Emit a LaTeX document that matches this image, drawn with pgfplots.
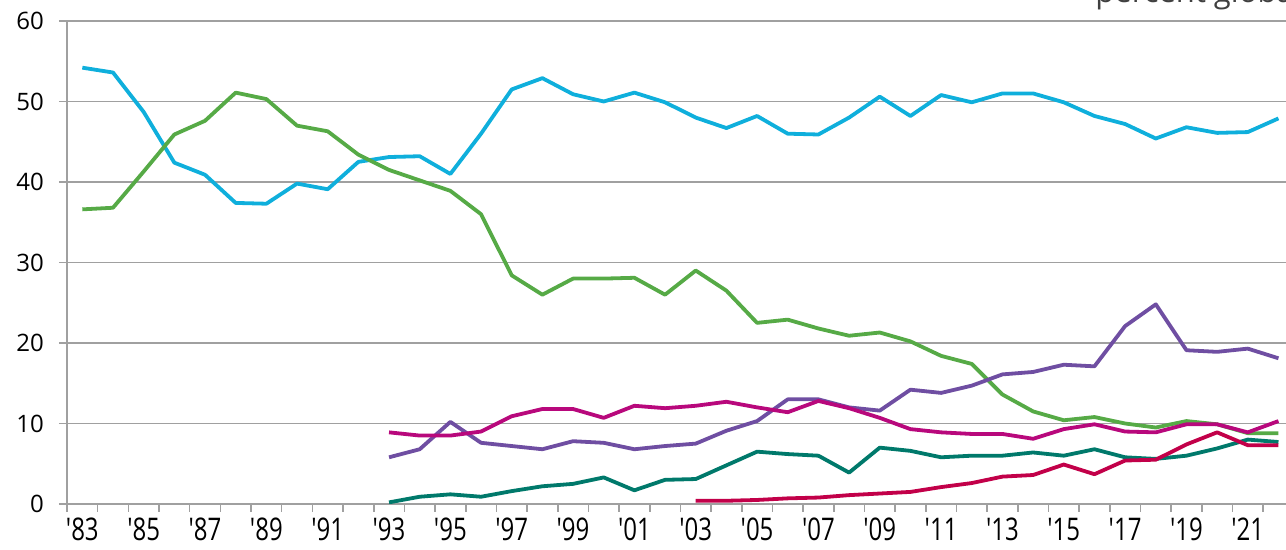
\documentclass[border=0pt]{standalone}
\usepackage{fontspec}
\setmainfont{Open Sans}
\usepackage{graphicx}
\usepackage{pgfplots}
\pgfplotsset{compat=1.18}
\definecolor{cCyan}{HTML}{0FAFDC}
\definecolor{cGreen}{HTML}{56AA46}
\definecolor{cPurple}{HTML}{6F4EA2}
\definecolor{cMagenta}{HTML}{B8087C}
\definecolor{cTeal}{HTML}{00796B}
\definecolor{cCrimson}{HTML}{C20049}
\definecolor{gridgray}{HTML}{A0A0A0}
% x labels in the reference are taller than the y labels
\newcommand\xl[1]{\scalebox{1}[1.3]{\textquotesingle#1}}

\begin{document}
\begin{tikzpicture}
\begin{axis}[
    scale only axis, width=613.4pt, height=241.5pt,
    xmin=1982.5, xmax=2022.5, ymin=0, ymax=60,
    axis x line*=bottom, axis y line*=left,
    axis line style={gridgray, line width=0.8pt},
    ytick={0,10,...,60},
    ymajorgrids, grid style={gridgray, line width=0.8pt},
    xtick={1983,1985,...,2021},
    xticklabels={\xl{83},\xl{85},\xl{87},\xl{89},\xl{91},\xl{93},\xl{95},\xl{97},\xl{99},\xl{01},
                 \xl{03},\xl{05},\xl{07},\xl{09},\xl{11},\xl{13},\xl{15},\xl{17},\xl{19},\xl{21}},
    minor xtick={1982.5,1983.5,...,2022.5},
    major x tick style={draw=none},
    tick align=outside, major tick length=4pt, minor tick length=4pt,
    tick style={gridgray, line width=0.8pt},
    /pgf/number format/assume math mode=true,
    tick label style={font=\fontsize{12}{14}\selectfont, text=black},
    yticklabel style={xshift=-4pt},
    xticklabel style={anchor=base, yshift=-14.5pt},
    every axis plot/.append style={line width=1.9pt, line join=round},
]
\addplot[cCyan] coordinates {
(1983,54.2)(1984,53.6)(1985,48.7)(1986,42.4)(1987,40.9)(1988,37.4)(1989,37.3)(1990,39.8)
(1991,39.1)(1992,42.5)(1993,43.1)(1994,43.2)(1995,41.0)(1996,46.0)(1997,51.5)(1998,52.9)
(1999,50.9)(2000,50.0)(2001,51.1)(2002,49.9)(2003,48.0)(2004,46.7)(2005,48.2)(2006,46.0)
(2007,45.9)(2008,48.0)(2009,50.6)(2010,48.2)(2011,50.8)(2012,49.9)(2013,51.0)(2014,51.0)
(2015,49.9)(2016,48.2)(2017,47.2)(2018,45.4)(2019,46.8)(2020,46.1)(2021,46.2)(2022,47.9)
};
\addplot[cGreen] coordinates {
(1983,36.6)(1984,36.8)(1985,41.3)(1986,45.9)(1987,47.6)(1988,51.1)(1989,50.3)(1990,47.0)
(1991,46.3)(1992,43.4)(1993,41.5)(1994,40.2)(1995,38.9)(1996,36.0)(1997,28.4)(1998,26.0)
(1999,28.0)(2000,28.0)(2001,28.1)(2002,26.0)(2003,29.0)(2004,26.5)(2005,22.5)(2006,22.9)
(2007,21.8)(2008,20.9)(2009,21.3)(2010,20.2)(2011,18.4)(2012,17.4)(2013,13.6)(2014,11.5)
(2015,10.4)(2016,10.8)(2017,10.0)(2018,9.5)(2019,10.3)(2020,9.9)(2021,8.8)(2022,8.8)
};
\addplot[cPurple] coordinates {
(1993,5.8)(1994,6.8)(1995,10.2)(1996,7.6)(1997,7.2)(1998,6.8)(1999,7.8)(2000,7.6)
(2001,6.8)(2002,7.2)(2003,7.5)(2004,9.1)(2005,10.3)(2006,13.0)(2007,13.0)(2008,12.0)
(2009,11.6)(2010,14.2)(2011,13.8)(2012,14.7)(2013,16.1)(2014,16.4)(2015,17.3)(2016,17.1)
(2017,22.1)(2018,24.8)(2019,19.1)(2020,18.9)(2021,19.3)(2022,18.1)
};
\addplot[cMagenta] coordinates {
(1993,8.9)(1994,8.5)(1995,8.5)(1996,9.0)(1997,10.9)(1998,11.8)(1999,11.8)(2000,10.7)
(2001,12.2)(2002,11.9)(2003,12.2)(2004,12.7)(2005,12.0)(2006,11.4)(2007,12.8)(2008,11.9)
(2009,10.7)(2010,9.3)(2011,8.9)(2012,8.7)(2013,8.7)(2014,8.1)(2015,9.3)(2016,9.9)
(2017,9.0)(2018,8.9)(2019,9.9)(2020,9.9)(2021,8.9)(2022,10.3)
};
\addplot[cTeal] coordinates {
(1993,0.2)(1994,0.9)(1995,1.2)(1996,0.9)(1997,1.6)(1998,2.2)(1999,2.5)(2000,3.3)
(2001,1.7)(2002,3.0)(2003,3.1)(2004,4.8)(2005,6.5)(2006,6.2)(2007,6.0)(2008,3.9)
(2009,7.0)(2010,6.6)(2011,5.8)(2012,6.0)(2013,6.0)(2014,6.4)(2015,6.0)(2016,6.8)
(2017,5.8)(2018,5.6)(2019,6.0)(2020,6.9)(2021,8.0)(2022,7.7)
};
\addplot[cCrimson] coordinates {
(2003,0.4)(2004,0.4)(2005,0.5)(2006,0.7)(2007,0.8)(2008,1.1)(2009,1.3)(2010,1.5)
(2011,2.1)(2012,2.6)(2013,3.4)(2014,3.6)(2015,4.9)(2016,3.7)(2017,5.4)(2018,5.5)
(2019,7.4)(2020,8.9)(2021,7.3)(2022,7.3)
};
\end{axis}
\node[anchor=base west, font=\fontsize{15.5}{18}\selectfont, text=black!75, inner sep=0pt] at (514pt,250.5pt) {percent global};
\pgfresetboundingbox
\path (-33.5pt,-23pt) rectangle (609.5pt,252pt);
\end{tikzpicture}
\end{document}
